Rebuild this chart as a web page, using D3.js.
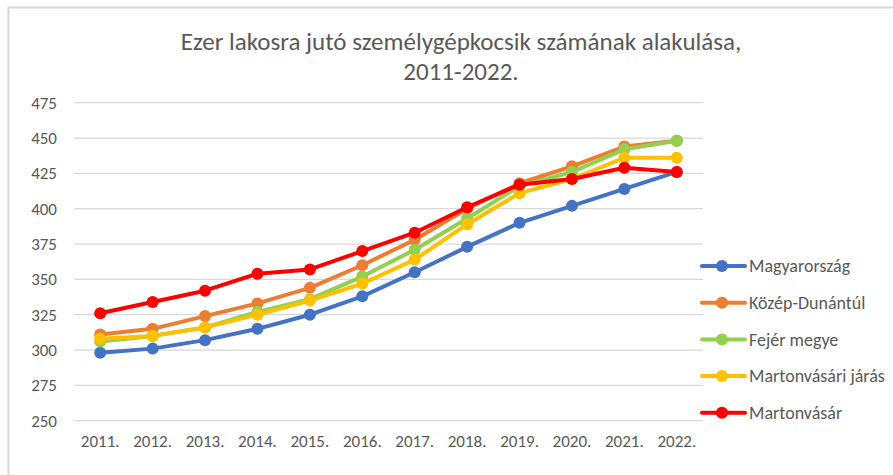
<!DOCTYPE html>
<html>
<head>
<meta charset="utf-8">
<script src="https://cdn.jsdelivr.net/npm/d3@7"></script>
<style>
  body { margin: 0; background: #fff; }
  text { font-family: Carlito, Calibri, Lato, 'Open Sans', sans-serif; fill: #595959; }
</style>
</head>
<body>
<div class="chart"></div>
<script>
const years = ['2011.', '2012.', '2013.', '2014.', '2015.', '2016.', '2017.', '2018.', '2019.', '2020.', '2021.', '2022.'];
const yTicks = [250, 275, 300, 325, 350, 375, 400, 425, 450, 475];
const seriesNames = ['Magyarország', 'Közép-Dunántúl', 'Fejér megye', 'Martonvásári járás', 'Martonvásár'];
const magyarorszag = [298, 301, 307, 315, 325, 338, 355, 373, 390, 402, 414, 426];
const kozepDunantul = [311, 315, 324, 333, 344, 360, 378, 400, 418, 430, 444, 448];
const fejerMegye = [306, 310, 316, 327, 336, 352, 371, 393, 416, 426, 442, 448];
const martonvasariJaras = [308, 310, 316, 325, 335, 347, 364, 389, 411, 421, 436, 436];
const martonvasar = [326, 334, 342, 354, 357, 370, 383, 401, 417, 421, 429, 426];
const colors = ['#4472C4', '#ED7D31', '#92D050', '#FFC000', '#FF0000'];

const series = [magyarorszag, kozepDunantul, fejerMegye, martonvasariJaras, martonvasar];

const w = 893;
const h = 475;

const svg = d3
  .select('.chart')
  .append('svg')
  .attr('width', w)
  .attr('height', h);

// outer border
svg
  .append('rect')
  .attr('x', 8.5)
  .attr('y', 7.5)
  .attr('width', w + 20)
  .attr('height', h + 20)
  .style('fill', 'none')
  .style('stroke', '#D9D9D9')
  .style('stroke-width', 2);

// title
svg
  .append('text')
  .attr('x', 461)
  .attr('y', 50)
  .attr('text-anchor', 'middle')
  .style('font-size', '25px')
  .text('Ezer lakosra jutó személygépkocsik számának alakulása,');

svg
  .append('text')
  .attr('x', 461)
  .attr('y', 80)
  .attr('text-anchor', 'middle')
  .style('font-size', '25px')
  .text('2011-2022.');

// x&y scale
const xScale = d3.scaleBand().domain(years).range([74, 703]);
const yScale = d3.scaleLinear().domain([250, 475]).range([420.7, 102.7]);

// gridlines
svg
  .append('g')
  .selectAll('line')
  .data(yTicks)
  .enter()
  .append('line')
  .attr('x1', 74)
  .attr('x2', 703)
  .attr('y1', (d) => yScale(d))
  .attr('y2', (d) => yScale(d))
  .style('stroke', '#D9D9D9')
  .style('stroke-width', 1.3);

// Y-axis
const yAxis = d3.axisLeft(yScale).tickValues(yTicks).tickSize(0).tickPadding(0);
svg
  .append('g')
  .attr('transform', 'translate(57, 0)')
  .call(yAxis)
  .call((g) => g.select('.domain').remove())
  .call((g) => g.selectAll('text').style('font-size', '17px').style('font-family', null));

// X-axis
const xAxis = d3.axisBottom(xScale).tickSize(0).tickPadding(0);
svg
  .append('g')
  .attr('transform', 'translate(0, 435)')
  .call(xAxis)
  .call((g) => g.select('.domain').remove())
  .call((g) => g.selectAll('text').style('font-size', '17px').style('font-family', null));

const xPos = (i) => xScale(years[i]) + xScale.bandwidth() / 2;

const line = d3
  .line()
  .x((d, i) => xPos(i))
  .y((d) => yScale(d));

series.forEach((vals, s) => {
  const g = svg.append('g');
  g.append('path')
    .attr('d', line(vals))
    .style('fill', 'none')
    .style('stroke', colors[s])
    .style('stroke-width', 4)
    .style('stroke-linejoin', 'round')
    .style('stroke-linecap', 'round');
  g.selectAll('circle')
    .data(vals)
    .enter()
    .append('circle')
    .attr('cx', (d, i) => xPos(i))
    .attr('cy', (d) => yScale(d))
    .attr('r', 6)
    .style('fill', colors[s]);
});

// legend
const legend = svg
  .append('g')
  .selectAll('g')
  .data(seriesNames)
  .enter()
  .append('g')
  .attr('transform', (d, i) => `translate(702, ${266 + i * 36.7})`);

legend
  .append('line')
  .attr('x1', 0)
  .attr('x2', 43)
  .style('stroke', (d, i) => colors[i])
  .style('stroke-width', 4)
  .style('stroke-linecap', 'round');

legend
  .append('circle')
  .attr('cx', 20)
  .attr('r', 6)
  .style('fill', (d, i) => colors[i]);

legend
  .append('text')
  .attr('x', 47)
  .attr('dy', '0.35em')
  .style('font-size', '18px')
  .text((d) => d);
</script>
</body>
</html>
